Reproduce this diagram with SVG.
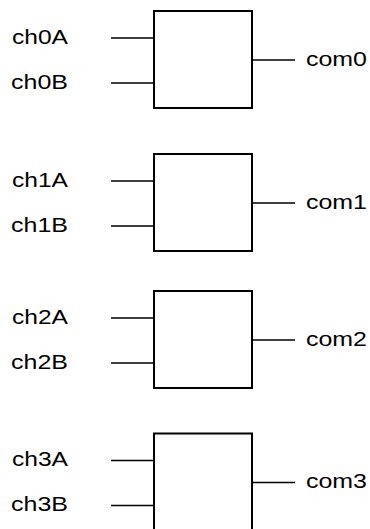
<svg xmlns="http://www.w3.org/2000/svg" width="370" height="529" viewBox="0 0 370 529">
<style>
.box{fill:#fff;stroke:#000;stroke-width:2}
.wire{stroke:#000;stroke-width:1.5;fill:none}
.lbl{font-family:"Liberation Sans",Arial,sans-serif;font-size:21px;fill:#000}
</style>
<rect width="370" height="529" fill="#fff"/>
<g id="connectors">
<g transform="translate(0,0)"><line class="wire" x1="111" y1="38" x2="154" y2="38"/><line class="wire" x1="111" y1="83" x2="154" y2="83"/><line class="wire" x1="252" y1="60" x2="295" y2="60"/></g>
<g transform="translate(0,143)"><line class="wire" x1="111" y1="38" x2="154" y2="38"/><line class="wire" x1="111" y1="83" x2="154" y2="83"/><line class="wire" x1="252" y1="60" x2="295" y2="60"/></g>
<g transform="translate(0,280)"><line class="wire" x1="111" y1="38" x2="154" y2="38"/><line class="wire" x1="111" y1="83" x2="154" y2="83"/><line class="wire" x1="252" y1="60" x2="295" y2="60"/></g>
<g transform="translate(0,422.5)"><line class="wire" x1="111" y1="38" x2="154" y2="38"/><line class="wire" x1="111" y1="83" x2="154" y2="83"/><line class="wire" x1="252" y1="60" x2="295" y2="60"/></g>
</g>
<g id="mux0" transform="translate(0,0)">
<rect class="box" x="154" y="11" width="98" height="97"/>
<text class="lbl" x="12" y="43.5" textLength="56" lengthAdjust="spacingAndGlyphs">ch0A</text>
<text class="lbl" x="11" y="88.5" textLength="57" lengthAdjust="spacingAndGlyphs">ch0B</text>
<text class="lbl" x="306" y="65.5" textLength="61" lengthAdjust="spacingAndGlyphs">com0</text>
</g>
<g id="mux1" transform="translate(0,143)">
<rect class="box" x="154" y="11" width="98" height="97"/>
<text class="lbl" x="12" y="43.5" textLength="56" lengthAdjust="spacingAndGlyphs">ch1A</text>
<text class="lbl" x="11" y="88.5" textLength="57" lengthAdjust="spacingAndGlyphs">ch1B</text>
<text class="lbl" x="306" y="65.5" textLength="61" lengthAdjust="spacingAndGlyphs">com1</text>
</g>
<g id="mux2" transform="translate(0,280)">
<rect class="box" x="154" y="11" width="98" height="97"/>
<text class="lbl" x="12" y="43.5" textLength="56" lengthAdjust="spacingAndGlyphs">ch2A</text>
<text class="lbl" x="11" y="88.5" textLength="57" lengthAdjust="spacingAndGlyphs">ch2B</text>
<text class="lbl" x="306" y="65.5" textLength="61" lengthAdjust="spacingAndGlyphs">com2</text>
</g>
<g id="mux3" transform="translate(0,422.5)">
<rect class="box" x="154" y="11" width="98" height="97"/>
<text class="lbl" x="12" y="43.5" textLength="56" lengthAdjust="spacingAndGlyphs">ch3A</text>
<text class="lbl" x="11" y="88.5" textLength="57" lengthAdjust="spacingAndGlyphs">ch3B</text>
<text class="lbl" x="306" y="65.5" textLength="61" lengthAdjust="spacingAndGlyphs">com3</text>
</g>
</svg>
